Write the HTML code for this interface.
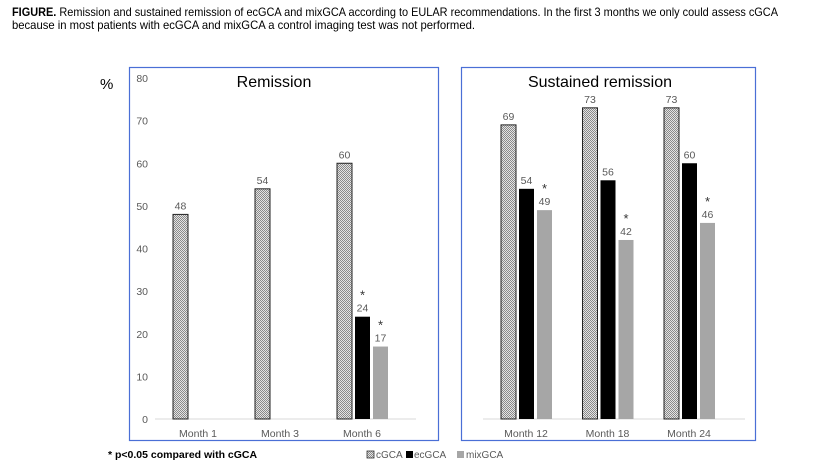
<!DOCTYPE html>
<html><head><meta charset="utf-8"><style>
body{margin:0;background:#fff;}
svg{display:block;font-family:"Liberation Sans",Arial,sans-serif;}
</style></head><body>
<svg width="821" height="465" viewBox="0 0 821 465">
<defs>
<pattern id="dots" width="2" height="2" patternUnits="userSpaceOnUse">
<rect width="2" height="2" fill="#e4e4e4"/><rect width="1" height="1" fill="#8a8a8a"/><rect x="1" y="1" width="1" height="1" fill="#8a8a8a"/>
</pattern>
</defs>
<text x="12" y="16" font-size="12" fill="#000" textLength="766" lengthAdjust="spacingAndGlyphs"><tspan font-weight="bold">FIGURE.</tspan> Remission and sustained remission of ecGCA and mixGCA according to EULAR recommendations. In the first 3 months we only could assess cGCA</text>
<text x="12" y="29" font-size="12" fill="#000" textLength="463" lengthAdjust="spacingAndGlyphs">because in most patients with ecGCA and mixGCA a control imaging test was not performed.</text>

<rect x="129.5" y="67.5" width="309" height="373" fill="none" stroke="#4a6fd6" stroke-width="1.2"/>
<rect x="461.5" y="67.5" width="294" height="373" fill="none" stroke="#4a6fd6" stroke-width="1.2"/>
<text x="100" y="89" font-size="15" fill="#000">%</text>
<text x="274" y="87" font-size="16" text-anchor="middle" fill="#000">Remission</text>
<text x="600" y="87" font-size="16" text-anchor="middle" fill="#000">Sustained remission</text>
<g id="chart"></g>
<text x="108" y="458" font-size="10.5" font-weight="bold" fill="#000">* p&lt;0.05 compared with cGCA</text>
<g>
<rect x="367" y="451" width="7" height="7" fill="url(#dots)" stroke="#333" stroke-width="0.8"/>
<text x="376" y="458" font-size="10" fill="#595959">cGCA</text>
<rect x="406" y="451" width="7" height="7" fill="#000"/>
<text x="414" y="458" font-size="10" fill="#595959">ecGCA</text>
<rect x="457" y="451" width="7" height="7" fill="#a6a6a6"/>
<text x="466" y="458" font-size="10" fill="#595959">mixGCA</text>
</g>
</svg>
<script>
const categories=["Month 1","Month 3","Month 6","Month 12","Month 18","Month 24"];
const cgca=[48,54,60,69,73,73];
const ecgca=[null,null,24,54,56,60];
const mixgca=[null,null,17,49,42,46];
const ecSig=[false,false,true,false,false,false];
const mixSig=[false,false,true,true,true,true];
const yTicks=[0,10,20,30,40,50,60,70,80];

const NS="http://www.w3.org/2000/svg";
const g=document.getElementById('chart');
function y(v){return 419-v*(341/80);}
function cx(i){return i<3?198+i*82:526+(i-3)*81.5;}
function mk(t,a,p){const e=document.createElementNS(NS,t);for(const k in a)e.setAttribute(k,a[k]);(p||g).appendChild(e);return e;}
const b1=mk('line',{x1:155,x2:416,y1:419,y2:419,stroke:'#d9d9d9'});


const b2=mk('line',{x1:483,x2:745,y1:419,y2:419,stroke:'#d9d9d9'});


yTicks.forEach(v=>{const t=mk('text',{x:148,y:y(v)+4,'font-size':10.5,fill:'#595959','text-anchor':'end'});t.textContent=v;

});
const series=[[cgca,'url(#dots)','cgca'],[ecgca,'#000','ecgca'],[mixgca,'#a6a6a6','mixgca']];
categories.forEach((c,i)=>{
  const lt=mk('text',{x:cx(i),y:437,'font-size':10.5,fill:'#595959','text-anchor':'middle'});lt.textContent=c;
  
  
  series.forEach((s,k)=>{
    const v=s[0][i]; if(v==null)return;
    const x=cx(i)-25+k*18;
    const r=mk('rect',{x:x,y:y(v),width:15,height:419-y(v),fill:s[1]});
    if(k===0){r.setAttribute('stroke','#222');r.setAttribute('stroke-width','1');}
    
    
    const t=mk('text',{x:x+7.5,y:y(v)-5,'font-size':10.5,fill:'#595959','text-anchor':'middle'});t.textContent=v;
    
    
    const sig=(k===1&&ecSig[i])||(k===2&&mixSig[i]);
    if(sig){const a=mk('text',{x:x+7.5,y:y(v)-17,'font-size':13,fill:'#333','text-anchor':'middle'});a.textContent='*';
      
      }
  });
});
</script>
</body></html>
